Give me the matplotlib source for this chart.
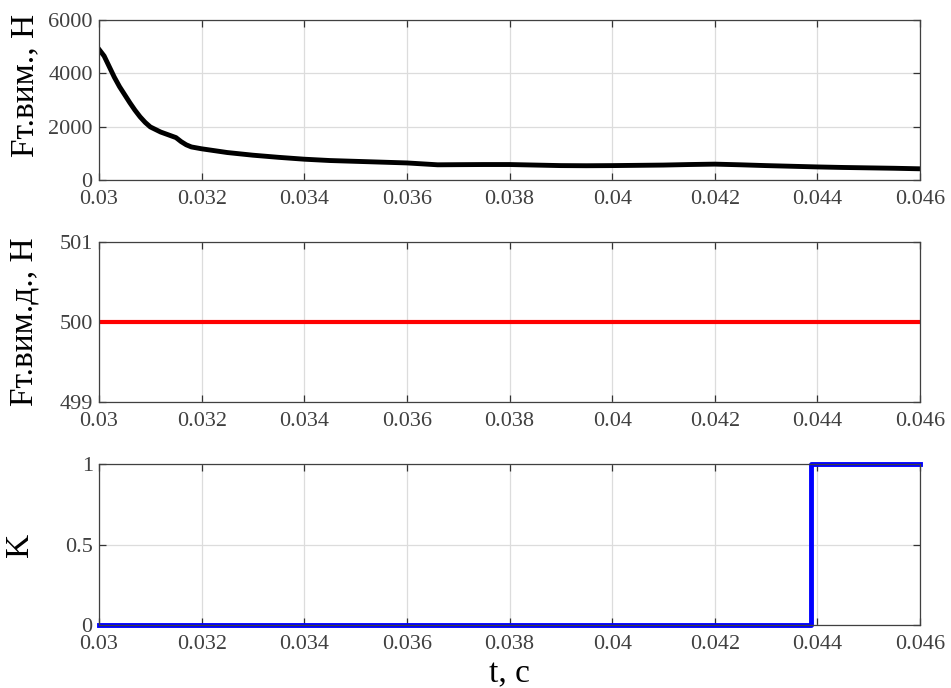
import matplotlib
matplotlib.use("Agg")
import matplotlib.pyplot as plt
import numpy as np

plt.rcParams['font.family'] = ['Liberation Serif', 'DejaVu Serif']

# Data
t_force = [0.0300, 0.0301, 0.0302, 0.0303, 0.0304, 0.0305, 0.0306, 0.0307, 0.0308,
           0.0309, 0.0310, 0.0312, 0.0314, 0.0315, 0.0316, 0.0317, 0.0318, 0.0320,
           0.0325, 0.0330, 0.0335, 0.0340, 0.0345, 0.0350, 0.0355, 0.0360, 0.0366,
           0.0370, 0.0375, 0.0380, 0.0385, 0.0390, 0.0395, 0.0400, 0.0405, 0.0410,
           0.0415, 0.0420, 0.0425, 0.0430, 0.0435, 0.0440, 0.0445, 0.0450, 0.0455, 0.0460]
f_force = [4900, 4650, 4250, 3850, 3500, 3200, 2900, 2620, 2370,
           2160, 1990, 1800, 1660, 1590, 1440, 1320, 1240, 1170,
           1030, 930, 850, 780, 730, 700, 670, 640, 570,
           575, 580, 580, 560, 540, 535, 540, 550, 560,
           580, 595, 570, 540, 515, 490, 470, 455, 440, 420]

t_ref = [0.030, 0.046]
f_ref = [500, 500]

t_k = [0.030, 0.04388, 0.04388, 0.046]
k_vals = [0, 0, 1, 1]

xticks = [0.03, 0.032, 0.034, 0.036, 0.038, 0.04, 0.042, 0.044, 0.046]
xticklabels = ['0.03', '0.032', '0.034', '0.036', '0.038', '0.04', '0.042', '0.044', '0.046']

fig = plt.figure(figsize=(9.51, 6.88), dpi=100)
W, H = 951, 688
left, right = 99, 920
boxes = [(20, 180), (242, 402), (464, 625)]
axes = []
for top, bot in boxes:
    ax = fig.add_axes([left / W, 1 - bot / H, (right - left) / W, (bot - top) / H])
    axes.append(ax)

tick_color = '#404040'
for ax in axes:
    ax.set_xlim(0.03, 0.046)
    ax.set_xticks(xticks)
    ax.set_xticklabels(xticklabels)
    ax.grid(True, color='#dcdcdc', linewidth=0.9)
    ax.set_axisbelow(True)
    ax.tick_params(direction='in', length=5, width=0.9, colors='#333333',
                   labelcolor=tick_color, labelsize=16, top=True, right=True)
    ax.tick_params(axis='x', pad=7)
    ax.tick_params(axis='y', pad=4.5)
    for s in ax.spines.values():
        s.set_color('#404040')
        s.set_linewidth(0.9)

ax1, ax2, ax3 = axes
ax1.plot(t_force, f_force, color='black', linewidth=3.5, solid_joinstyle='round')
ax1.set_ylim(0, 6000)
ax1.set_yticks([0, 2000, 4000, 6000])
ax1.set_ylabel('Fт.вим., Н', fontsize=24)
ax1.yaxis.set_label_coords(-0.072, 0.594)

ax2.plot(t_ref, f_ref, color='red', linewidth=3.0)
ax2.set_ylim(499, 501)
ax2.set_yticks([499, 500, 501])
ax2.set_ylabel('Fт.вим.д., Н', fontsize=24)
ax2.yaxis.set_label_coords(-0.072, 0.5)

ax3.plot(t_k, k_vals, color='blue', linewidth=3.5, clip_on=False)
ax3.set_ylim(0, 1)
ax3.set_yticks([0, 0.5, 1])
ax3.set_yticklabels(['0', '0.5', '1'])
ax3.set_ylabel('K', fontsize=24)
ax3.yaxis.set_label_coords(-0.078, 0.5)
ax3.set_xlabel('t, c', fontsize=24)
ax3.xaxis.set_label_coords(0.5, -0.21)

fig.savefig('out.png', dpi=100)
